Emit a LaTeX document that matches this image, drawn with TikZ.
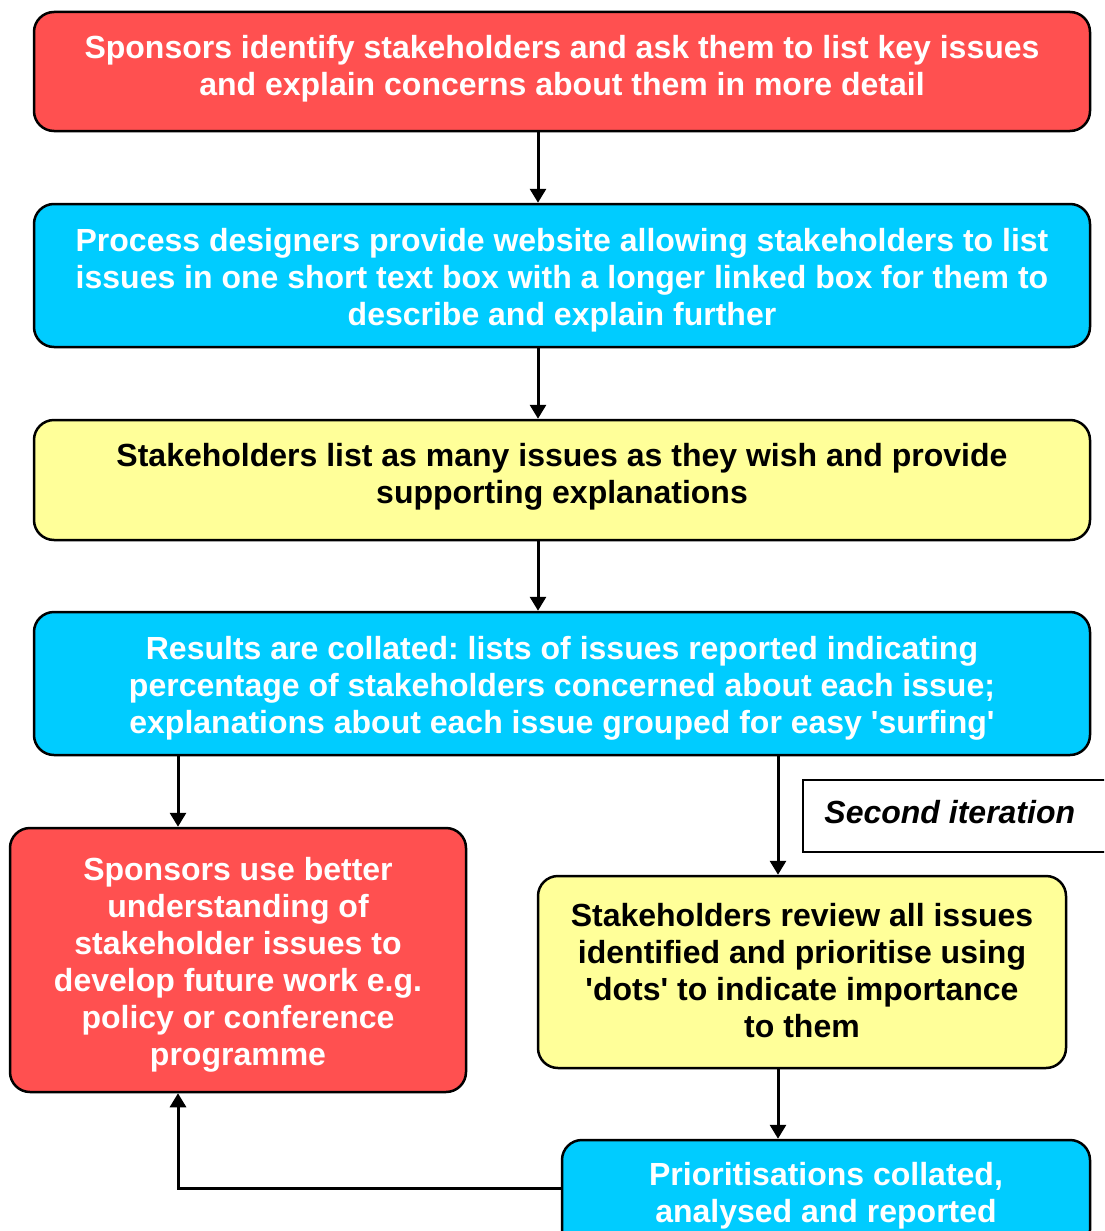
\documentclass[tikz,border=0pt]{standalone}
\usepackage{fontspec}
\setmainfont{Liberation Sans}
\usetikzlibrary{arrows.meta,calc}
\definecolor{redc}{RGB}{255,80,80}
\definecolor{cyanc}{RGB}{0,204,255}
\definecolor{yelc}{RGB}{255,255,153}
\newcommand{\sq}{\textquotesingle}
\tikzset{
  box/.style={draw=black, line width=2.5pt, rounded corners=20pt, inner sep=0pt},
  redbox/.style={box, fill=redc},
  cyanbox/.style={box, fill=cyanc},
  yelbox/.style={box, fill=yelc},
  txt/.style={align=center, inner sep=0pt,
    font=\fontsize{32}{37}\selectfont\bfseries\frenchspacing},
  wtxt/.style={txt, text=white},
  btxt/.style={txt, text=black},
  arr/.style={draw=black, line width=3pt, -{Triangle[length=14pt,width=16pt]}},
  notebox/.style={draw=black, line width=1.5pt, minimum width=330pt, minimum height=72pt, inner sep=0pt},
  notetxt/.style={anchor=west, inner sep=0pt, font=\fontsize{32}{37}\selectfont\bfseries\itshape}
}
\begin{document}
\begin{tikzpicture}[x=1pt,y=-1pt]
\clip (0,0) rectangle (1104,1231);
\fill[white] (0,0) rectangle (1104,1231);
\node[redbox, minimum width=1056pt, minimum height=119pt] (n1) at (562,71.5) {};
\node[cyanbox, minimum width=1056pt, minimum height=143pt] (n2) at (562,275.5) {};
\node[yelbox, minimum width=1056pt, minimum height=120pt] (n3) at (562,480) {};
\node[cyanbox, minimum width=1056pt, minimum height=143pt] (n4) at (562,683.5) {};
\node[redbox, minimum width=456pt, minimum height=264pt] (n5) at (238,960) {};
\node[yelbox, minimum width=528pt, minimum height=192pt] (n6) at (802,972) {};
\node[cyanbox, minimum width=528pt, minimum height=110pt] (n7) at (826,1195) {};
\node[notebox] (si) at (968,816) {};

\path (n1.center) ++(0,-3) node[wtxt] (t1)
  {Sponsors identify stakeholders and ask them to list key issues\\and explain concerns about them in more detail};
\path (n2.center) ++(0,4.5) node[wtxt] (t2)
  {Process designers provide website allowing stakeholders to list\\issues in one short text box with a longer linked box for them to\\describe and explain further};
\path (n3.center) ++(0,-3.5) node[btxt] (t3)
  {Stakeholders list as many issues as they wish and provide\\supporting explanations};
\path (n4.center) ++(0,4.5) node[wtxt] (t4)
  {Results are collated: lists of issues reported indicating\\percentage of stakeholders concerned about each issue;\\explanations about each issue grouped for easy \sq surfing\sq};
\path (n5.center) ++(0,5) node[wtxt] (t5)
  {Sponsors use better\\understanding of\\stakeholder issues to\\develop future work e.g.\\policy or conference\\programme};
\path (n6.center) ++(0,-1.5) node[btxt] (t6)
  {Stakeholders review all issues\\identified and prioritise using\\\sq dots\sq\ to indicate importance\\to them};
\path (n7.center) ++(0,0.5) node[wtxt] (t7)
  {Prioritisations collated,\\analysed and reported};
\path (si.west) ++(22,-4) node[notetxt] (tsi) {Second iteration};

\draw[arr] ([xshift=-24pt]n1.south) -- ([xshift=-24pt]n2.north);
\draw[arr] ([xshift=-24pt]n2.south) -- ([xshift=-24pt]n3.north);
\draw[arr] ([xshift=-24pt]n3.south) -- ([xshift=-24pt]n4.north);
\draw[arr] ([xshift=-60pt]n5.north |- n4.south) -- ([xshift=-60pt]n5.north);
\draw[arr] ([xshift=-24pt]n6.north |- n4.south) -- ([xshift=-24pt]n6.north);
\draw[arr] ([xshift=-24pt]n6.south) -- ([xshift=-24pt]n6.south |- n7.north);
\draw[arr] ([yshift=7pt]n7.west) -| ([xshift=-60pt]n5.south);
\end{tikzpicture}
\end{document}
